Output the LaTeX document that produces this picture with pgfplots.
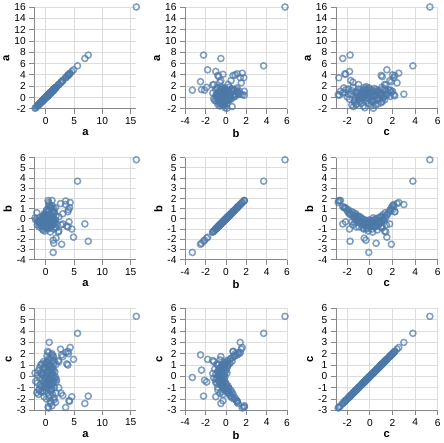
\documentclass[border=0pt]{standalone}
\usepackage{fontspec}
\setmainfont{Liberation Sans}
\usepackage{pgfplots}
\usepackage{pgfplotstable}
\pgfplotsset{compat=1.18}
\definecolor{ptc}{HTML}{4C78A8}
\definecolor{gridc}{HTML}{DDDDDD}
\definecolor{axc}{HTML}{888888}

\pgfplotstableread{
a b c
1.8 0.3 -1.5
-0.5 0.1 -1.4
0.9 0.2 -1.3
-1.2 -0.1 -1.2
0.4 0.0 -1.1
1.5 -0.3 -1.0
-0.8 -0.2 -0.9
0.2 -0.5 -0.8
1.1 -0.4 -0.7
-1.5 -0.6 -0.6
0.6 -0.3 -0.5
-0.3 -0.7 -0.4
1.9 -0.5 -0.3
0.0 -0.9 -0.2
-1.0 -0.6 -0.1
0.7 -0.8 0.0
1.3 -0.4 0.1
-0.6 -1.0 0.2
0.3 -0.6 0.3
1.6 -0.8 0.4
-1.3 -0.4 0.5
0.5 -0.7 0.6
1.0 -0.3 0.7
-0.2 -0.5 0.8
0.8 -0.2 0.9
-0.9 -0.4 1.0
1.4 0.0 1.1
0.1 -0.1 1.2
-0.4 0.2 1.3
1.2 0.1 1.4
0.4 0.4 1.5
-1.6 0.6 -1.45
0.0 0.5 -1.25
1.0 0.3 -1.05
-0.4 0.2 -0.85
0.9 0.0 -0.65
-1.8 -0.1 -0.45
0.5 -0.2 -0.25
1.7 -0.1 -0.05
-0.7 -0.2 0.15
0.2 -0.1 0.35
1.1 0.0 0.55
-1.1 0.1 0.75
0.6 0.2 0.95
-0.1 0.4 1.15
1.5 0.6 1.35
-0.9 -0.4 -1.35
0.3 -0.8 -0.95
1.4 -1.0 -0.55
-0.2 -1.2 -0.15
0.8 -1.3 0.25
-0.5 -1.1 0.65
1.8 -0.9 1.05
0.6 -0.6 1.45
0.2 -0.3 -0.6
-0.6 -0.5 -0.3
0.9 -0.6 -0.1
-0.3 -0.4 0.2
0.4 -0.5 0.5
1.2 -0.2 0.8
-0.7 -0.1 1.1
0.0 -0.2 -1.0
1.0 -0.1 -1.2
-0.2 0.0 -0.7
0.7 -0.4 -0.35
0.1 -0.7 0.05
-0.4 -0.8 0.45
0.5 -0.3 0.9
1.3 -0.6 -0.45
-1.0 -0.3 -0.75
0.3 -0.2 1.25
0.8 0.1 -1.15
-0.1 -0.6 0.75
0.6 -0.9 -0.6
-0.8 -0.7 0.3
1.6 -0.3 -0.2
-0.5 0.3 -1.3
0.2 0.2 1.0
1.1 -0.7 0.35
-1.4 -0.2 0.1
0.4 -1.0 -0.3
0.0 -0.4 -0.5
0.9 -0.1 0.6
-0.3 0.1 -1.0
0.9 1.1 -2.2
0.1 0.8 -2.0
1.5 0.6 -1.9
-0.3 0.5 -1.8
0.6 0.4 -1.7
1.2 0.7 -1.6
0.9 0.5 1.6
1.3 0.7 1.7
0.2 0.9 1.8
1.0 1.1 1.9
1.1 1.3 2.0
1.4 1.0 -2.1
0.8 1.2 -2.4
0.5 1.2 2.1
0.6 0.9 -1.9
-1.3 -0.3 -1.6
-1.2 -0.8 -1.2
16.0 5.8 5.3
5.6 3.7 3.8
7.5 -2.2 -1.75
6.9 -0.5 -2.4
4.9 -1.8 1.5
4.6 -1.0 -1.8
4.3 1.6 2.55
3.9 0.7 2.2
4.0 0.9 2.0
3.5 1.4 2.1
2.6 1.5 2.4
2.8 -2.5 1.9
3.5 1.75 -2.75
4.1 -0.3 -2.15
4.2 1.1 -2.2
3.9 -0.8 1.0
3.7 -0.7 1.1
1.3 -3.3 -0.1
1.4 -2.4 0.55
1.3 -2.1 -0.35
1.8 -1.9 -0.5
2.2 -1.3 1.4
0.4 1.8 -2.7
1.1 1.8 -2.6
0.5 1.6 -2.8
1.7 1.1 -2.3
0.6 1.4 3.0
0.3 0.7 2.2
1.3 0.8 1.8
3.0 -0.5 1.75
-1.9 0.1 0.3
3.0 0.5 -1.7
2.7 -0.6 -1.5
2.3 0.2 -1.0
2.3 -1.2 1.3
}\data

\pgfplotsset{
  sm/.style={
    width=100pt, height=100pt, scale only axis,
    axis x line*=bottom, axis y line*=left,
    axis line style={axc, line width=0.8pt, -},
    tick style={axc, line width=0.8pt},
    tick align=outside, major tick length=5pt,
    grid=major, grid style={gridc, line width=0.8pt},
    ticklabel style={font=\fontsize{10}{12}\selectfont},
    /pgf/number format/assume math mode=true,
    label style={font=\bfseries\fontsize{11}{13}\selectfont},
    xlabel style={yshift=2pt},
    ylabel style={yshift=-2pt},
    clip=false,
    anchor=north west,
  },
  xa/.style={xmin=-2,xmax=16,xtick={0,5,10,15},xlabel={a}},
  xb/.style={xmin=-4,xmax=6,xtick={-4,-2,...,6},xlabel={b}},
  xc/.style={xmin=-3,xmax=6,xtick={-2,0,...,6},xlabel={c}},
  ya/.style={ymin=-2,ymax=16,ytick={-2,0,...,16},ylabel={a}},
  yb/.style={ymin=-4,ymax=6,ytick={-4,-3,...,6},ylabel={b}},
  yc/.style={ymin=-3,ymax=6,ytick={-3,-2,...,6},ylabel={c}},
  pts/.style={only marks, mark=o, mark size=3pt,
    mark options={draw=ptc, line width=1.5pt, draw opacity=0.7}},
}

\begin{document}
\begin{tikzpicture}
% row 1 (y = a)
\begin{axis}[sm, xa, ya, at={(0pt,0pt)}]
\addplot[pts] table[x=a,y=a]{\data};
\end{axis}
\begin{axis}[sm, xb, ya, at={(148pt,0pt)}]
\addplot[pts] table[x=b,y=a]{\data};
\end{axis}
\begin{axis}[sm, xc, ya, at={(296pt,0pt)}]
\addplot[pts] table[x=c,y=a]{\data};
\end{axis}
% row 2 (y = b)
\begin{axis}[sm, xa, yb, at={(0pt,-148pt)}]
\addplot[pts] table[x=a,y=b]{\data};
\end{axis}
\begin{axis}[sm, xb, yb, at={(148pt,-148pt)}]
\addplot[pts] table[x=b,y=b]{\data};
\end{axis}
\begin{axis}[sm, xc, yb, at={(296pt,-148pt)}]
\addplot[pts] table[x=c,y=b]{\data};
\end{axis}
% row 3 (y = c)
\begin{axis}[sm, xa, yc, at={(0pt,-296pt)}]
\addplot[pts] table[x=a,y=c]{\data};
\end{axis}
\begin{axis}[sm, xb, yc, at={(148pt,-296pt)}]
\addplot[pts] table[x=b,y=c]{\data};
\end{axis}
\begin{axis}[sm, xc, yc, at={(296pt,-296pt)}]
\addplot[pts] table[x=c,y=c]{\data};
\end{axis}
\end{tikzpicture}
\end{document}
